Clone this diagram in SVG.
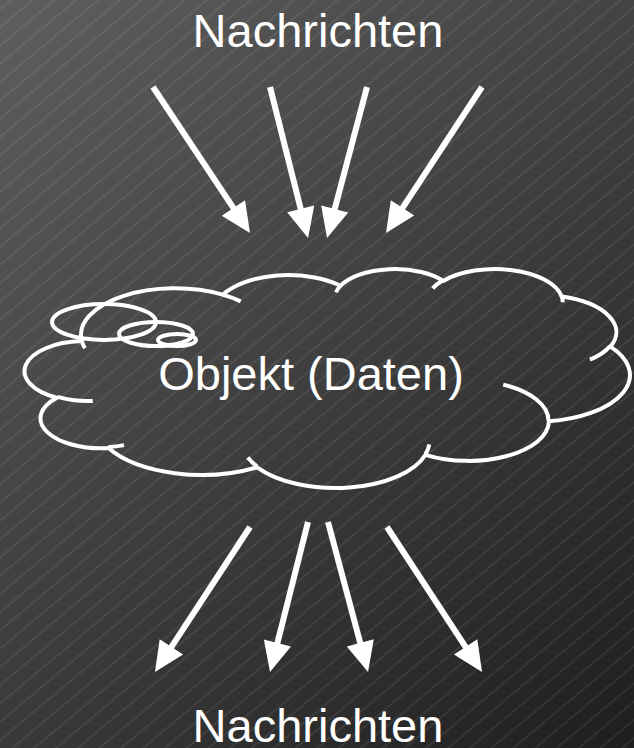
<svg xmlns="http://www.w3.org/2000/svg" width="634" height="748" viewBox="0 0 634 748">
<defs>
<linearGradient id="bg" gradientUnits="userSpaceOnUse" x1="0" y1="0" x2="634" y2="748">
<stop offset="0" stop-color="#5e5e5e"/>
<stop offset="1" stop-color="#1e1e1e"/>
</linearGradient>
<pattern id="hatch" patternUnits="userSpaceOnUse" width="40" height="14" patternTransform="rotate(-40)">
<line x1="-5" y1="7" x2="45" y2="7" stroke="#ffffff" stroke-opacity="0.2" stroke-width="0.7"/>
</pattern>
<marker id="head" markerUnits="userSpaceOnUse" markerWidth="32" markerHeight="30" refX="2" refY="0" orient="auto" overflow="visible">
<path d="M0,-14 L30,0 L0,14 z" fill="#ffffff"/>
</marker>
<style>
.t{font-family:"Liberation Sans",Arial,sans-serif;font-size:47px;fill:#ffffff;text-anchor:middle}
.c{fill:none;stroke:#ffffff;stroke-width:4;stroke-linejoin:round;stroke-linecap:butt}
.a{stroke:#ffffff;stroke-width:6;fill:none;marker-end:url(#head)}
</style>
</defs>
<rect width="634" height="748" fill="url(#bg)"/>
<rect width="634" height="748" fill="url(#hatch)"/>

<g id="label-top"><text class="t" x="318" y="47">Nachrichten</text></g>

<g id="cloud">
<path class="c" d="M81.8,341.1 A94.1,46.6 0 0 1 222.7,294.7 A74.3,36.8 0 0 1 340.5,285.7 A60.8,30.1 0 0 1 443.3,280.9 A67.7,33.4 0 0 1 561.6,296.5 A74.3,36.9 0 0 1 610.4,346.6 A94.4,46.7 0 0 1 548.9,421.3 A80.6,39.9 0 0 1 425.5,454.8 A94.1,46.7 0 0 1 257.2,467.3 A107.6,53.4 0 0 1 108.4,448.1 A60.8,30 0 0 1 56.9,397.8 A60.6,30.1 0 0 1 81.8,341.1 Z"/>
<path class="c" d="M92.8,400.9 A60.6,30.1 0 0 1 57.5,396.9 M124,445.1 A60.8,30 0 0 1 108.5,447.1 M257.1,466.4 A94.1,46.7 0 0 1 247.8,457.5 M429.3,444.4 A94.1,46.7 0 0 1 425.5,454.1 M503.2,384.6 A80.6,39.9 0 0 1 548.5,420.8 M610.1,346.1 A74.3,36.9 0 0 1 589.9,359.7 M561.6,295.8 A67.7,33.4 0 0 1 562.7,302.2 M432.7,288.3 A67.7,33.4 0 0 1 443.1,280.2 M336,292.2 A60.8,30.1 0 0 1 341,285.2 M222.6,294.6 A94.1,46.6 0 0 1 240.7,301.4 M84.9,348.3 A94.1,46.6 0 0 1 81.8,341.1"/>
<ellipse class="c" cx="104" cy="322" rx="52" ry="18"/>
<ellipse class="c" cx="156" cy="334" rx="37" ry="12"/>
<ellipse class="c" cx="177" cy="340" rx="19" ry="6"/>
<text class="t" x="311" y="390">Objekt (Daten)</text>
</g>

<g id="label-bottom"><text class="t" x="318" y="742">Nachrichten</text></g>

<g id="connectors">
<line class="a" x1="153" y1="87" x2="234.5" y2="209.7"/>
<line class="a" x1="270" y1="87" x2="301.2" y2="210.8"/>
<line class="a" x1="367" y1="87" x2="334.2" y2="210.9"/>
<line class="a" x1="482" y1="87" x2="401.4" y2="209.6"/>
<line class="a" x1="250" y1="527" x2="170.3" y2="648.6"/>
<line class="a" x1="308" y1="522" x2="276.9" y2="644.9"/>
<line class="a" x1="328" y1="522" x2="360.8" y2="644.9"/>
<line class="a" x1="387" y1="527" x2="466.7" y2="648.6"/>
</g>
</svg>
